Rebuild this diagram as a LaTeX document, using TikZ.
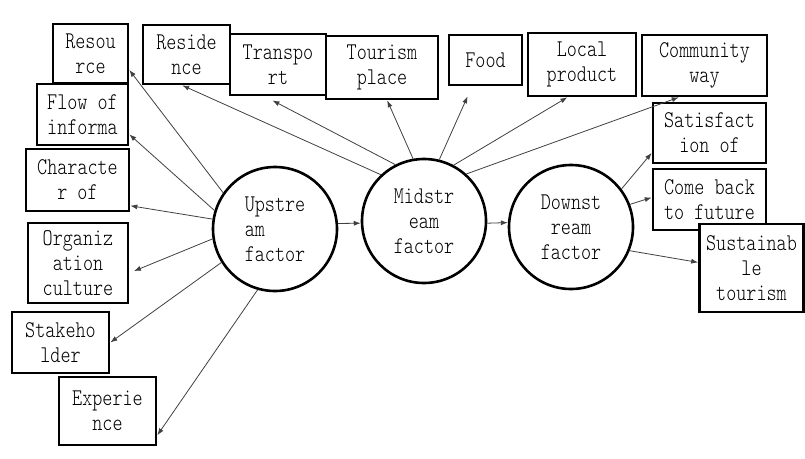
\documentclass[tikz,border=0pt]{standalone}
\usepackage{fontspec}
\usepackage{tikz}
\usetikzlibrary{arrows.meta}
\newfontfamily\monofamily[FakeStretch=0.8]{Latin Modern Mono Light}
\newcommand{\factorfont}{\monofamily\fontsize{24}{25}\selectfont}

\begin{document}
\begin{tikzpicture}[x=1pt,y=-1pt,->,>={Latex[length=7pt,width=5pt]},
                    factor box/.style={rectangle,draw,fill=white,line width=2.6pt,inner sep=0pt,align=center,font=\factorfont},
                    stream node/.style={circle,draw,fill=white,line width=2.6pt,minimum size=124pt,inner sep=0pt,font=\factorfont}]
\useasboundingbox (0,0) rectangle (805,458);

% left side
\node[factor box,minimum width=75pt,minimum height=59pt] (res) at (90.5,53.5) {Resou\\rce};
\node[factor box,minimum width=91pt,minimum height=61pt] (flow) at (82.5,114.5) {Flow of\\informa};
\node[factor box,minimum width=103pt,minimum height=62pt] (char) at (77.5,180) {Characte\\r of};
\node[factor box,minimum width=100pt,minimum height=80pt] (org) at (78,263) {Organiz\\ation\\culture};
\node[factor box,minimum width=97pt,minimum height=61pt] (stake) at (60.5,342.5) {Stakeho\\lder};
\node[factor box,minimum width=97pt,minimum height=68pt] (exper) at (107.5,411) {Experie\\nce};

% top row
\node[factor box,minimum width=87pt,minimum height=59pt] (resid) at (186.5,54.5) {Reside\\nce};
\node[factor box,minimum width=96pt,minimum height=61pt] (trans) at (278,64.5) {Transpo\\rt};
\node[factor box,minimum width=112pt,minimum height=63pt] (tour) at (382,67.5) {Tourism\\place};
\node[factor box,minimum width=73pt,minimum height=50pt] (food) at (485.5,60) {Food};
\node[factor box,minimum width=108pt,minimum height=63pt] (local) at (582,64.5) {Local\\product};
\node[factor box,minimum width=125pt,minimum height=61pt] (comm) at (704.5,65.5) {Community\\way};

% right side
\node[factor box,minimum width=113pt,minimum height=60pt] (satis) at (709.5,133) {Satisfact\\ion of};
\node[factor box,minimum width=113pt,minimum height=61pt] (come) at (709.5,199.5) {Come back\\to future};
\node[factor box,minimum width=104pt,minimum height=88pt] (sust) at (751.5,268) {Sustainab\\le\\tourism};

% the three factors
\node[stream node,align=left] (up) at (275,229) {Upstre\\am\\factor};
\node[stream node,align=center] (mid) at (424,221) {Midstr\\eam\\factor};
\node[stream node,align=center] (down) at (571,227) {Downst\\ream\\factor};

\path[line width=0.8pt,black!75]
(up.145) edge (res.-23)
(up.163) edge (flow.-23)
(up.171) edge (char.-26)
(up.189) edge [shorten >=5pt] (org.-11)
(up.-148) edge (stake.east)
(up.-106) edge (exper.-26)
(up.5) edge (mid.182)
(mid.133) edge (resid.-98)
(mid.117) edge [shorten >=9pt] (trans.-113)
(mid.100) edge (tour.-81)
(mid.76) edge [shorten >=11pt] (food.-117)
(mid.62) edge (local.-114)
(mid.48) edge (comm.-129)
(mid.-2) edge (down.176)
(down.37) edge (satis.199)
(down.21) edge (come.178)
(down.-22) edge (sust.174);
\end{tikzpicture}
\end{document}
